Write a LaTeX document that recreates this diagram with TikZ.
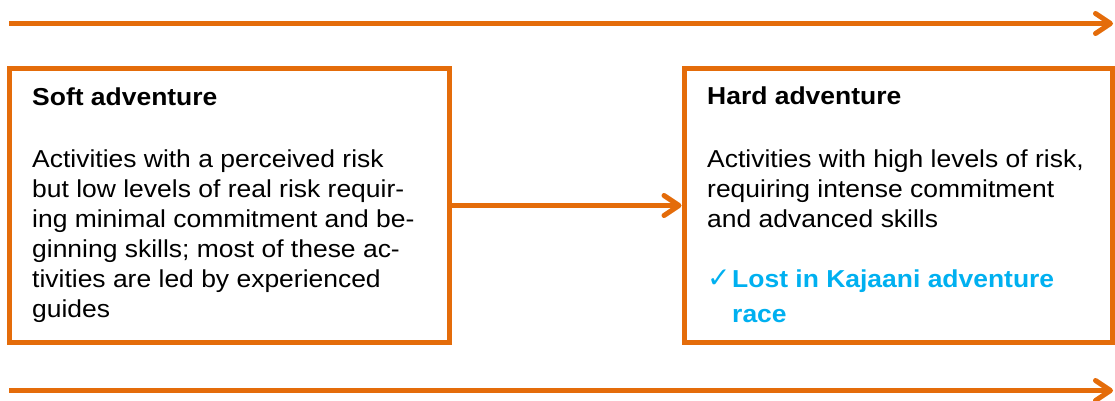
\documentclass[tikz,border=0pt]{standalone}
\usepackage{fontspec}
\setmainfont[FakeStretch=1.08]{Liberation Sans}
\newfontfamily\tickfont{DejaVu Sans}
\usetikzlibrary{arrows.meta}
\definecolor{rustorange}{RGB}{228,108,10}
\definecolor{skyblue}{RGB}{0,176,240}
\begin{document}
\begin{tikzpicture}[x=1pt,y=-1pt,
  box/.style={draw=rustorange, line width=5pt, rectangle, inner sep=0pt, minimum height=274pt},
  flow/.style={draw=rustorange, line width=5pt, -{Straight Barb[length=15pt,width=20pt,round]}},
  heading/.style={anchor=base west, inner sep=0pt, font=\fontsize{24.5}{30}\selectfont\bfseries},
  blurb/.style={anchor=base west, inner sep=0pt, align=left, font=\fontsize{24.5}{30}\selectfont},
]
\useasboundingbox (0,0) rectangle (1115,400);

% the two category boxes
\node[box, minimum width=440.5pt] (soft) at (229.25,205.5) {};
\node[box, minimum width=428.5pt] (hard) at (898.25,205.5) {};

% soft adventure contents (multi-line blocks are placed by their last baseline)
\node[heading] (softtitle) at (32,105) {Soft adventure};
\node[blurb] (softtext) at (32,317) {Activities with a perceived risk\\
but low levels of real risk requir-\\
ing minimal commitment and be-\\
ginning skills; most of these ac-\\
tivities are led by experienced\\
guides};

% hard adventure contents
\node[heading] (hardtitle) at (707,104) {Hard adventure};
\node[blurb] (hardtext) at (707,227) {Activities with high levels of risk,\\
requiring intense commitment\\
and advanced skills};
\node[anchor=base west, inner sep=0pt, text=skyblue,
      font=\tickfont\fontsize{28}{30}\selectfont] (tick) at (707,287) {✓};
\node[blurb, text=skyblue, font=\fontsize{24.5}{35}\selectfont\bfseries]
      (race) at (732,322) {Lost in Kajaani adventure\\race};

% scale arrows above and below, and the link between the boxes
\coordinate (topstart) at (9,23.5);
\coordinate (topend) at (1113,23.5);
\coordinate (botstart) at (9,390.5);
\coordinate (botend) at (1113,390.5);
\draw[flow] (topstart) -- (topend);
\draw[flow] (botstart) -- (botend);
\draw[flow] (soft.east) -- (hard.west);
\end{tikzpicture}
\end{document}
